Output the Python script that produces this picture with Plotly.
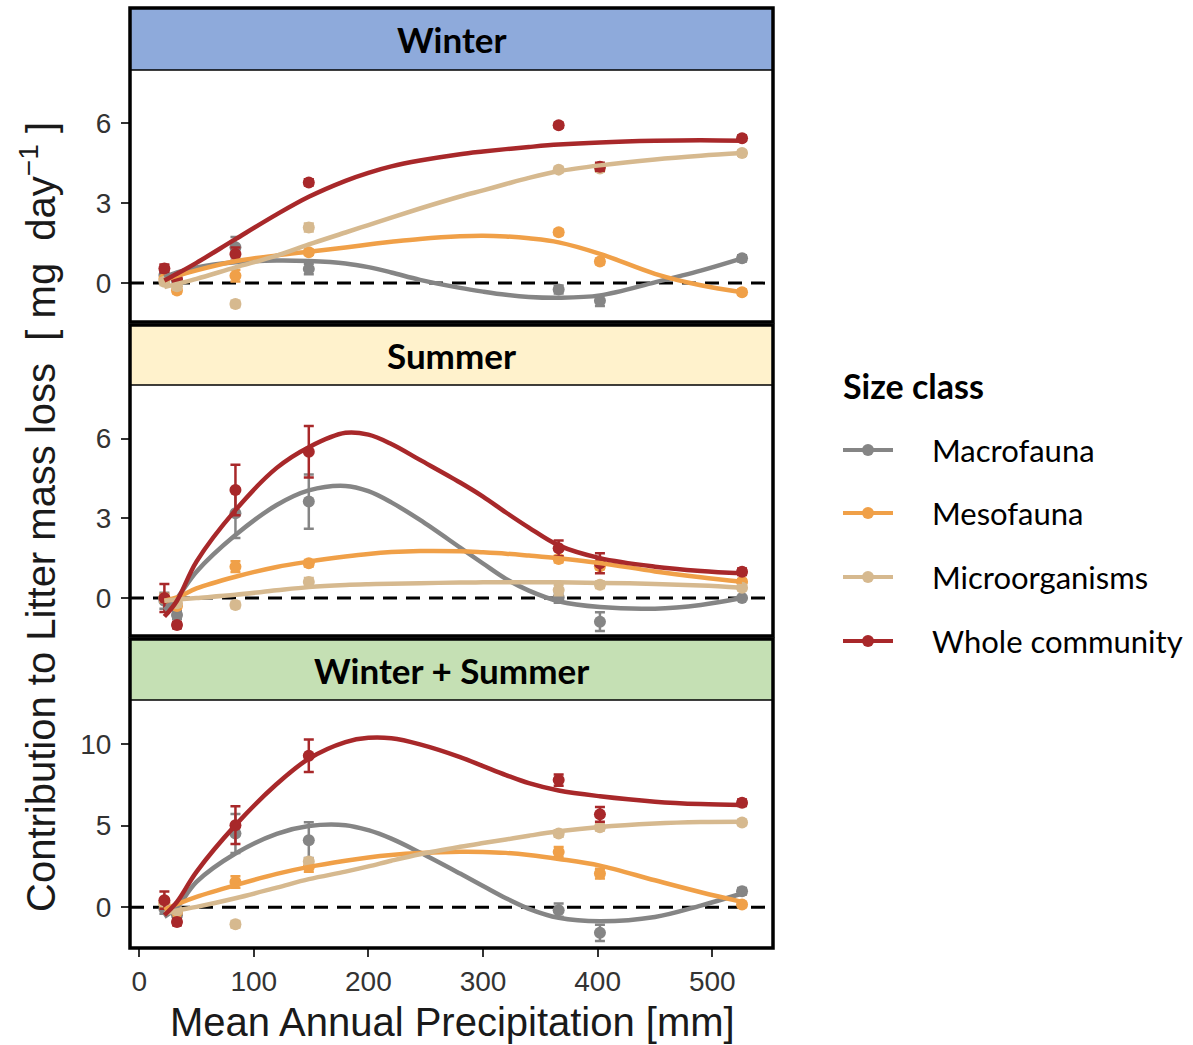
import plotly.graph_objects as go

# Sites (mean annual precipitation, mm)
SITES = [22, 33, 84, 148, 366, 402, 526]

# Fitted-curve sample positions (mm)
CURVE_X = [22, 33, 50, 84, 120, 148, 180, 200, 220, 245, 280, 300, 320, 340, 366, 402, 450, 490, 526]

SERIES = ["Macrofauna", "Mesofauna", "Microorganisms", "Whole community"]
COLORS = {
    "Macrofauna": "#858585",
    "Mesofauna": "#F0A048",
    "Microorganisms": "#D6B98F",
    "Whole community": "#A8282A",
}

PANELS = ["Winter", "Summer", "Winter + Summer"]
STRIP_FILL = {"Winter": "#8EAADB", "Summer": "#FFF2CC", "Winter + Summer": "#C5E0B4"}

# Site means (mg day-1)
winter_mean = {
    "Macrofauna": [0.30, 0.10, 1.35, 0.53, -0.24, -0.66, 0.93],
    "Mesofauna": [0.15, -0.28, 0.28, 1.16, 1.91, 0.81, -0.34],
    "Microorganisms": [0.05, -0.12, -0.78, 2.09, 4.26, 4.30, 4.88],
    "Whole community": [0.55, 0.15, 1.09, 3.78, 5.93, 4.37, 5.44],
}
summer_mean = {
    "Macrofauna": [-0.10, -0.64, 3.19, 3.63, 0.02, -0.89, 0.00],
    "Mesofauna": [0.00, -0.30, 1.18, 1.31, 1.47, 1.20, 0.61],
    "Microorganisms": [0.00, -0.20, -0.26, 0.60, 0.30, 0.50, 0.39],
    "Whole community": [0.00, -1.02, 4.07, 5.51, 1.87, 1.31, 0.99],
}
both_mean = {
    "Macrofauna": [-0.10, -0.50, 4.52, 4.11, -0.18, -1.57, 0.98],
    "Mesofauna": [0.20, -0.30, 1.55, 2.47, 3.39, 2.06, 0.16],
    "Microorganisms": [0.30, -0.20, -1.04, 2.80, 4.52, 4.90, 5.19],
    "Whole community": [0.43, -0.90, 5.03, 9.28, 7.79, 5.69, 6.40],
}

# Standard errors
winter_se = {
    "Macrofauna": [0.10, 0.10, 0.38, 0.20, 0.15, 0.20, 0.12],
    "Mesofauna": [0.10, 0.10, 0.22, 0.10, 0.10, 0.10, 0.10],
    "Microorganisms": [0.12, 0.12, 0.12, 0.15, 0.10, 0.12, 0.10],
    "Whole community": [0.15, 0.10, 0.25, 0.12, 0.10, 0.15, 0.10],
}
summer_se = {
    "Macrofauna": [0.30, 0.15, 0.93, 1.02, 0.20, 0.35, 0.05],
    "Mesofauna": [0.15, 0.10, 0.20, 0.12, 0.12, 0.12, 0.10],
    "Microorganisms": [0.12, 0.12, 0.12, 0.15, 0.20, 0.12, 0.10],
    "Whole community": [0.53, 0.12, 0.95, 0.97, 0.30, 0.38, 0.12],
}
both_se = {
    "Macrofauna": [0.30, 0.15, 1.20, 1.10, 0.40, 0.50, 0.20],
    "Mesofauna": [0.30, 0.10, 0.35, 0.30, 0.30, 0.30, 0.15],
    "Microorganisms": [0.20, 0.15, 0.20, 0.20, 0.20, 0.20, 0.15],
    "Whole community": [0.53, 0.20, 1.16, 1.00, 0.35, 0.45, 0.20],
}

# Smoothed fits, sampled at CURVE_X
winter_fit = {
    "Macrofauna": [0.22, 0.40, 0.59, 0.78, 0.85, 0.83, 0.74, 0.60, 0.40, 0.12, -0.18, -0.32, -0.44, -0.52, -0.55, -0.46, 0.03, 0.47, 0.93],
    "Mesofauna": [0.10, 0.27, 0.48, 0.82, 1.04, 1.18, 1.34, 1.45, 1.55, 1.66, 1.76, 1.78, 1.75, 1.68, 1.53, 1.10, 0.35, -0.08, -0.34],
    "Microorganisms": [-0.15, -0.03, 0.16, 0.59, 1.03, 1.45, 1.90, 2.18, 2.46, 2.80, 3.25, 3.48, 3.72, 3.95, 4.20, 4.42, 4.64, 4.78, 4.88],
    "Whole community": [0.10, 0.35, 0.76, 1.65, 2.58, 3.24, 3.84, 4.14, 4.38, 4.60, 4.84, 4.94, 5.03, 5.11, 5.20, 5.28, 5.34, 5.36, 5.34],
}
summer_fit = {
    "Macrofauna": [-0.45, 0.00, 0.99, 2.37, 3.50, 4.05, 4.22, 4.02, 3.60, 2.94, 1.90, 1.30, 0.72, 0.28, -0.12, -0.34, -0.40, -0.26, 0.00],
    "Mesofauna": [-0.10, 0.02, 0.36, 0.80, 1.17, 1.37, 1.56, 1.66, 1.73, 1.77, 1.76, 1.72, 1.67, 1.60, 1.50, 1.32, 1.00, 0.78, 0.61],
    "Microorganisms": [-0.10, -0.06, 0.00, 0.12, 0.29, 0.41, 0.49, 0.52, 0.54, 0.56, 0.58, 0.59, 0.59, 0.59, 0.59, 0.57, 0.53, 0.47, 0.39],
    "Whole community": [-0.70, -0.10, 1.37, 3.31, 4.90, 5.68, 6.22, 6.15, 5.80, 5.20, 4.35, 3.82, 3.22, 2.65, 1.98, 1.50, 1.18, 1.02, 0.93],
}
both_fit = {
    "Macrofauna": [-0.59, 0.00, 1.55, 3.29, 4.50, 4.98, 5.03, 4.72, 4.20, 3.35, 2.06, 1.30, 0.55, -0.10, -0.65, -0.86, -0.60, 0.10, 0.84],
    "Mesofauna": [-0.16, 0.18, 0.63, 1.35, 2.04, 2.47, 2.85, 3.05, 3.20, 3.32, 3.40, 3.39, 3.33, 3.20, 2.96, 2.55, 1.65, 0.92, 0.33],
    "Microorganisms": [-0.39, -0.20, 0.02, 0.55, 1.20, 1.72, 2.18, 2.50, 2.85, 3.25, 3.70, 3.93, 4.15, 4.38, 4.65, 4.92, 5.13, 5.22, 5.24],
    "Whole community": [-0.49, 0.33, 2.17, 5.03, 7.55, 9.10, 10.12, 10.38, 10.35, 9.98, 9.20, 8.65, 8.10, 7.60, 7.15, 6.80, 6.47, 6.32, 6.26],
}

MEANS = [winter_mean, summer_mean, both_mean]
SES = [winter_se, summer_se, both_se]
FITS = [winter_fit, summer_fit, both_fit]

Y_TICKS = [[0, 3, 6], [0, 3, 6], [0, 5, 10]]
Y_RANGES = [[-1.46, 8.0], [-1.43, 8.02], [-2.5, 12.7]]
X_TICKS = [0, 100, 200, 300, 400, 500]

# Page geometry (pixels), converted to paper fractions
W, H = 1193, 1045
LEFT, RIGHT = 130, 773
BLOCKS = [  # (strip top, panel top, panel bottom)
    (8, 70, 322),
    (325, 385, 636),
    (639, 700, 948),
]
LEGEND_TITLE_Y = 385
LEGEND_ROWS_Y = [450, 513, 577, 641]
LEGEND_LINE_X = (843, 893)
LEGEND_TEXT_X = 930


def px(v):
    return v / W


def py(v):
    return 1 - v / H


fig = go.Figure()

yaxis_names = ["y", "y2", "y3"]
for i, panel in enumerate(PANELS):
    for s in SERIES:
        fig.add_trace(go.Scatter(
            x=SITES, y=MEANS[i][s], mode="markers", name=s,
            marker=dict(color=COLORS[s], size=12),
            error_y=dict(type="data", array=SES[i][s], color=COLORS[s],
                         thickness=2.5, width=5),
            xaxis="x", yaxis=yaxis_names[i], showlegend=False, hoverinfo="skip",
        ))
    for s in SERIES:
        fig.add_trace(go.Scatter(
            x=CURVE_X, y=FITS[i][s], mode="lines", name=s,
            line=dict(color=COLORS[s], width=4.5, shape="spline", smoothing=1.0),
            xaxis="x", yaxis=yaxis_names[i], showlegend=False, hoverinfo="skip",
        ))

shapes = []
annotations = []
for i, (top, ptop, pbot) in enumerate(BLOCKS):
    # strip background
    shapes.append(dict(type="rect", xref="paper", yref="paper",
                       x0=px(LEFT), x1=px(RIGHT), y0=py(ptop), y1=py(top),
                       fillcolor=STRIP_FILL[PANELS[i]], line=dict(color="black", width=1.5),
                       layer="above"))
    # panel frame
    shapes.append(dict(type="rect", xref="paper", yref="paper",
                       x0=px(LEFT), x1=px(RIGHT), y0=py(pbot), y1=py(top),
                       line=dict(color="black", width=3.5), layer="above"))
    # zero reference line
    shapes.append(dict(type="line", xref="paper", yref=yaxis_names[i],
                       x0=px(LEFT), x1=px(RIGHT), y0=0, y1=0,
                       line=dict(color="black", width=3, dash="14px,9px"), layer="below"))
    annotations.append(dict(text="<b>%s</b>" % PANELS[i], xref="paper", yref="paper",
                            x=px((LEFT + RIGHT) / 2), y=py((top + ptop) / 2),
                            showarrow=False, font=dict(family="Lato", size=35, color="black"),
                            xanchor="center", yanchor="middle"))

# Size-class key
annotations.append(dict(text="<b>Size class</b>", xref="paper", yref="paper",
                        x=px(LEGEND_LINE_X[0] - 2), y=py(LEGEND_TITLE_Y),
                        showarrow=False, font=dict(family="Lato", size=34, color="black"),
                        xanchor="left", yanchor="middle"))
for s, ry in zip(SERIES, LEGEND_ROWS_Y):
    shapes.append(dict(type="line", xref="paper", yref="paper",
                       x0=px(LEGEND_LINE_X[0]), x1=px(LEGEND_LINE_X[1]), y0=py(ry), y1=py(ry),
                       line=dict(color=COLORS[s], width=4)))
    shapes.append(dict(type="circle", xref="paper", yref="paper",
                       xsizemode="pixel", ysizemode="pixel",
                       xanchor=px(sum(LEGEND_LINE_X) / 2), yanchor=py(ry),
                       x0=-6, x1=6, y0=-6, y1=6,
                       fillcolor=COLORS[s], line=dict(width=0)))
    annotations.append(dict(text=s, xref="paper", yref="paper",
                            x=px(LEGEND_TEXT_X), y=py(ry),
                            showarrow=False, font=dict(family="Lato", size=31, color="black"),
                            xanchor="left", yanchor="middle"))

annotations.append(dict(
    text="Contribution to Litter mass loss  [ mg  day<sup>\u22121</sup> ]",
    xref="paper", yref="paper", x=px(38), y=py(517), textangle=-90,
    showarrow=False, font=dict(family="Liberation Sans, Arial", size=40, color="#1a1a1a"),
    xanchor="center", yanchor="middle"))
annotations.append(dict(
    text="Mean Annual Precipitation [mm]",
    xref="paper", yref="paper", x=px(452), y=py(1022),
    showarrow=False, font=dict(family="Liberation Sans, Arial", size=40, color="#1a1a1a"),
    xanchor="center", yanchor="middle"))

tick_font = dict(family="Liberation Sans, Arial", size=28, color="#333333")
layout = dict(
    width=W, height=H,
    margin=dict(l=0, r=0, t=0, b=0),
    paper_bgcolor="white", plot_bgcolor="white",
    showlegend=False,
    shapes=shapes, annotations=annotations,
    xaxis=dict(domain=[px(LEFT), px(RIGHT)], range=[-8, 553], anchor="y3",
               tickvals=X_TICKS, ticks="outside", ticklen=8, tickwidth=2, tickcolor="#333333",
               tickfont=tick_font, showgrid=False, zeroline=False, showline=False),
)
for i, (top, ptop, pbot) in enumerate(BLOCKS):
    key = "yaxis" if i == 0 else "yaxis%d" % (i + 1)
    layout[key] = dict(domain=[py(pbot), py(ptop)], range=Y_RANGES[i], anchor="x",
                       tickvals=Y_TICKS[i], ticks="outside", ticklen=8, tickwidth=2,
                       tickcolor="#333333", tickfont=tick_font, ticklabelstandoff=4,
                       showgrid=False, zeroline=False, showline=False)
fig.update_layout(**layout)

fig.write_html("out.html")
